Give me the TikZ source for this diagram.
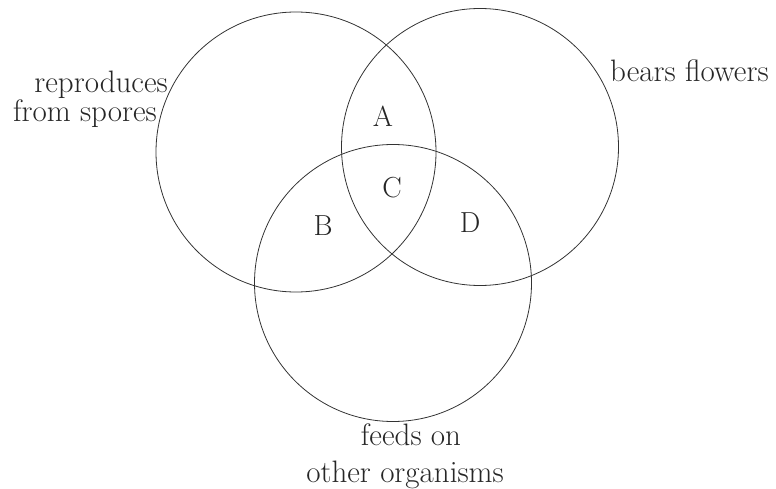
\documentclass[tikz,border=0pt]{standalone}
\usepackage{fontspec}
\begin{document}
\begin{tikzpicture}[x=1pt,y=-1pt,
  setcircle/.style={circle, draw=black!80, line width=0.8pt, inner sep=0pt, minimum size=#1},
  lbl/.style={inner sep=0pt, text=black!85, font=\fontsize{31}{34}\selectfont},
  region/.style={inner sep=0pt, text=black!85, font=\fontsize{29}{32}\selectfont, anchor=base}]
\useasboundingbox (0,0) rectangle (776,489);
% circles
\node[setcircle=280pt] (L) at (296,152) {};
\node[setcircle=277pt] (R) at (480,147) {};
\node[setcircle=277pt] (F) at (393,283) {};
% region letters
\node[region] (A) at (383,127) {A};
\node[region] (C) at (392,198) {C};
\node[region] (B) at (323,235) {B};
\node[region] (D) at (470,232) {D};
% set labels
\node[lbl, anchor=base east] (rep1) at (168,93) {reproduces};
\node[lbl, anchor=base east] (rep2) at (157,122) {from spores};
\node[lbl, anchor=base west] (bears) at (610,82) {bears flowers};
\node[lbl, anchor=base] (feed1) at (411,445) {feeds on};
\node[lbl, anchor=base] (feed2) at (405,482) {other organisms};
\end{tikzpicture}
\end{document}
